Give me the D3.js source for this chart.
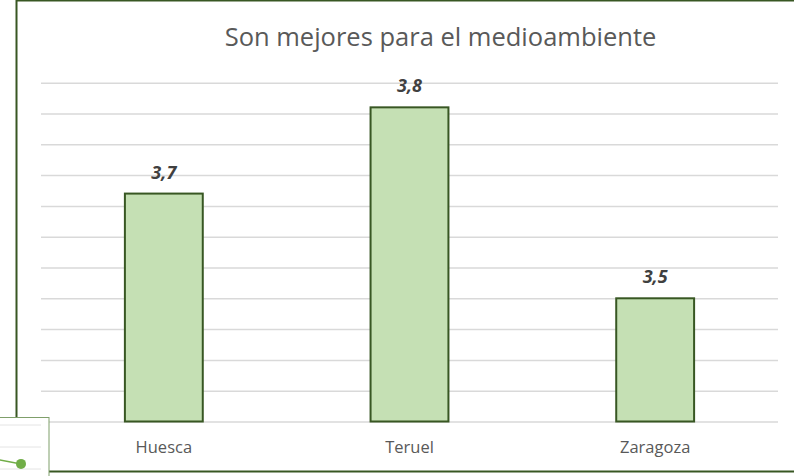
<!DOCTYPE html>
<html>
<head>
<meta charset="utf-8">
<script src="https://cdn.jsdelivr.net/npm/d3@7"></script>
<style>
  html, body { margin: 0; padding: 0; background: #fff; }
  svg { display: block; }
</style>
</head>
<body>
<svg id="chart" width="794" height="476"></svg>
<script>
// Data
const categories = ["Huesca", "Teruel", "Zaragoza"];
const values = [3.67, 3.81, 3.50];
const title = "Son mejores para el medioambiente";
const yDomain = [3.3, 3.85];
const yStep = 0.05;

// Small inset chart peeking in at the lower left
const insetGrid = [0, 1, 2];
const insetLine = [[0, 0.63], [1, 0.7]];

const svg = d3.select("#chart");
const W = 794, H = 476;
const margin = { left: 41, right: 16, top: 82.7, bottom: 54.5 };
const plotW = W - margin.left - margin.right;
const plotH = H - margin.top - margin.bottom;

const green = "#385723";
const textGray = "#595959";

// Chart frame
svg.append("rect")
  .attr("x", 16.5).attr("y", 0.5)
  .attr("width", 800).attr("height", 471)
  .attr("fill", "#fff")
  .attr("stroke", green).attr("stroke-width", 2);

const x = d3.scaleBand()
  .domain(categories)
  .range([margin.left, margin.left + plotW])
  .paddingInner(0.683)
  .paddingOuter(0.3415);

const y = d3.scaleLinear()
  .domain(yDomain)
  .range([margin.top + plotH, margin.top]);

// Gridlines
const ticks = d3.range(yDomain[0], yDomain[1] + yStep / 2, yStep);
svg.append("g")
  .attr("transform", `translate(${margin.left},0)`)
  .call(d3.axisLeft(y).tickValues(ticks).tickSize(-plotW).tickFormat(""))
  .call(g => g.select(".domain").remove())
  .call(g => g.selectAll(".tick line")
    .attr("stroke", "#d9d9d9").attr("stroke-width", 1.5));

// Bars
svg.append("g").selectAll("rect")
  .data(categories)
  .join("rect")
  .attr("x", d => x(d))
  .attr("y", (d, i) => y(values[i]))
  .attr("width", x.bandwidth())
  .attr("height", (d, i) => y(yDomain[0]) - y(values[i]))
  .attr("fill", "#c5e0b4")
  .attr("stroke", green)
  .attr("stroke-width", 2);

// Value labels
const fmt = v => d3.format(".1f")(v).replace(".", ",");
svg.append("g").selectAll("text")
  .data(categories)
  .join("text")
  .attr("x", d => x(d) + x.bandwidth() / 2)
  .attr("y", (d, i) => y(values[i]) - 15)
  .attr("text-anchor", "middle")
  .attr("font-family", "'Open Sans', sans-serif")
  .attr("font-size", 18)
  .attr("font-weight", "bold")
  .attr("font-style", "italic")
  .attr("fill", "#404040")
  .text((d, i) => fmt(values[i]));

// Category axis
svg.append("g")
  .attr("transform", `translate(0,${y(yDomain[0])})`)
  .call(d3.axisBottom(x).tickSize(0).tickPadding(0))
  .call(g => g.select(".domain").remove())
  .call(g => g.selectAll("text")
    .attr("dy", null)
    .attr("y", 31.5)
    .attr("font-family", "'Open Sans', sans-serif")
    .attr("font-size", 16.5)
    .attr("fill", textGray));

// Title
svg.append("text")
  .attr("x", 440.5).attr("y", 46)
  .attr("text-anchor", "middle")
  .attr("font-family", "'Open Sans', sans-serif")
  .attr("font-size", 25.5)
  .attr("fill", textGray)
  .text(title);

// Inset chart
const inset = svg.append("g");
inset.append("rect")
  .attr("x", -2).attr("y", 417.5)
  .attr("width", 51).attr("height", 62)
  .attr("fill", "#fff")
  .attr("stroke", "#7f9f6a").attr("stroke-width", 1);
const iy = d3.scaleLinear().domain([0, 2]).range([425, 469]);
const ix = d3.scaleLinear().domain([0, 1]).range([-4, 21]);
inset.selectAll("line")
  .data(insetGrid)
  .join("line")
  .attr("x1", 0).attr("x2", 41)
  .attr("y1", d => iy(d)).attr("y2", d => iy(d))
  .attr("stroke", "#e4e4e4").attr("stroke-width", 1);
inset.append("path")
  .attr("d", d3.line().x(d => ix(d[0])).y(d => 417 + d[1] * 67)(insetLine))
  .attr("fill", "none").attr("stroke", "#70ad47").attr("stroke-width", 1.5);
inset.append("circle")
  .attr("cx", ix(1)).attr("cy", 417 + insetLine[1][1] * 67)
  .attr("r", 5).attr("fill", "#70ad47");
</script>
</body>
</html>
